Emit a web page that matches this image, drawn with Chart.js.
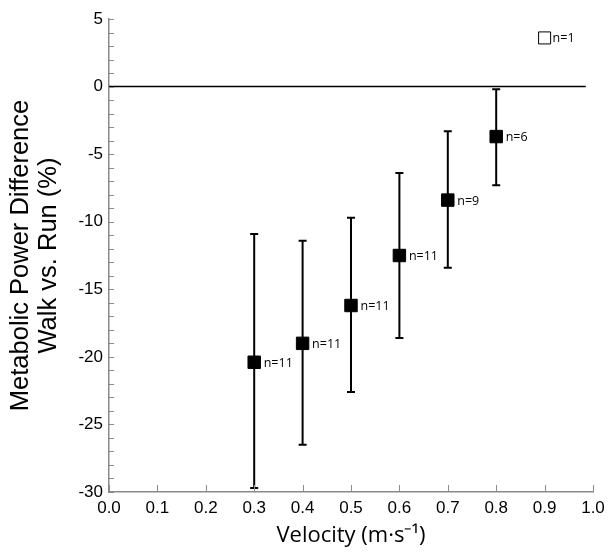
<!DOCTYPE html>
<html>
<head>
<meta charset="utf-8">
<script src="https://cdn.jsdelivr.net/npm/chart.js@4.4.1/dist/chart.umd.min.js"></script>
<style>
  html, body { margin: 0; padding: 0; background: #fff; }
</style>
</head>
<body>
<canvas id="powerChart" width="611" height="554"></canvas>
<script>
// walk vs run metabolic power difference, mean +/- sd per speed
const velocity = [0.3, 0.4, 0.5, 0.6, 0.7, 0.8];
const powerDiff = [-20.4, -19.0, -16.2, -12.5, -8.4, -3.7];
const errTop = [-10.9, -11.4, -9.7, -6.4, -3.3, -0.2];
const errBottom = [-29.7, -26.5, -22.6, -18.6, -13.4, -7.3];
const subjects = [11, 11, 11, 11, 9, 6];

// the lone subject at 0.9
const singleVelocity = [0.9];
const singleDiff = [3.6];
const singleSubjects = [1];

const zeroLineX = [0, 0.985];
const zeroLineY = [0, 0];

const axisGrey = '#8a8a8a';

const errorBars = {
    id: 'errorBars',
    beforeDatasetsDraw(chart) {
        const { ctx, scales: { x, y } } = chart;
        ctx.save();
        ctx.strokeStyle = '#000';
        ctx.lineWidth = 2;
        velocity.forEach((v, i) => {
            const px = x.getPixelForValue(v);
            const top = y.getPixelForValue(errTop[i]);
            const bot = y.getPixelForValue(errBottom[i]);
            ctx.beginPath();
            ctx.moveTo(px, top);
            ctx.lineTo(px, bot);
            ctx.moveTo(px - 4, top);
            ctx.lineTo(px + 4, top);
            ctx.moveTo(px - 4, bot);
            ctx.lineTo(px + 4, bot);
            ctx.stroke();
        });
        ctx.restore();
    },
    afterDatasetsDraw(chart) {
        const { ctx, scales: { x, y } } = chart;
        ctx.save();
        ctx.fillStyle = '#000';
        ctx.font = '12.5px "Open Sans"';
        ctx.textAlign = 'left';
        ctx.textBaseline = 'middle';
        velocity.forEach((v, i) => {
            ctx.fillText('n=' + subjects[i], x.getPixelForValue(v) + 9.5, y.getPixelForValue(powerDiff[i]) + 1);
        });
        singleVelocity.forEach((v, i) => {
            ctx.fillText('n=' + singleSubjects[i], x.getPixelForValue(v) + 8, y.getPixelForValue(singleDiff[i]) + 1);
        });
        ctx.restore();
    }
};

// small inward ticks like the original plot
const innerTicks = {
    id: 'innerTicks',
    afterDraw(chart) {
        const { ctx, scales: { x, y }, chartArea } = chart;
        ctx.save();
        ctx.strokeStyle = axisGrey;
        ctx.lineWidth = 1;
        ctx.beginPath();
        for (let i = 0; i <= 35; i++) {
            const py = Math.round(y.getPixelForValue(-30 + i)) + 0.5;
            ctx.moveTo(chartArea.left, py);
            ctx.lineTo(chartArea.left + 5, py);
        }
        for (let i = 0; i <= 10; i++) {
            const px = Math.round(x.getPixelForValue(i / 10)) + 0.5;
            ctx.moveTo(px, chartArea.bottom);
            ctx.lineTo(px, chartArea.bottom - 7);
        }
        ctx.stroke();
        ctx.restore();
    }
};

const ctx = document.getElementById('powerChart').getContext('2d');
const powerChart = new Chart(ctx, {
    type: 'scatter',
    data: {
        datasets: [
            {
                type: 'line',
                data: zeroLineX.map((v, i) => ({ x: v, y: zeroLineY[i] })),
                borderColor: '#000',
                borderWidth: 1.5,
                pointRadius: 0,
                fill: false
            },
            {
                data: velocity.map((v, i) => ({ x: v, y: powerDiff[i] })),
                pointStyle: 'rect',
                pointRadius: 8.8,
                backgroundColor: '#000',
                borderColor: '#000',
                borderWidth: 1
            },
            {
                data: singleVelocity.map((v, i) => ({ x: v, y: singleDiff[i] })),
                pointStyle: 'rect',
                pointRadius: 8.5,
                backgroundColor: '#fff',
                borderColor: '#000',
                borderWidth: 1
            }
        ]
    },
    options: {
        responsive: false,
        animation: false,
        events: [],
        layout: {
            padding: { left: 0, top: 19, right: 18, bottom: 0 }
        },
        scales: {
            x: {
                type: 'linear',
                min: 0,
                max: 1,
                afterFit: (scale) => { scale.height = 62; },
                grid: { display: false, drawTicks: false },
                border: { display: true, color: axisGrey, width: 1.5 },
                ticks: {
                    stepSize: 0.1,
                    padding: 6,
                    color: '#000',
                    font: { family: '"Liberation Sans", Arial', size: 17 },
                    callback: (v) => Number(v).toFixed(1)
                },
                title: {
                    display: true,
                    text: 'Velocity (m·s⁻¹)',
                    color: '#000',
                    font: { family: '"Open Sans"', size: 22 },
                    padding: { top: 0, bottom: 5 }
                }
            },
            y: {
                type: 'linear',
                min: -30,
                max: 5,
                afterFit: (scale) => { scale.width = 109; },
                grid: { display: false, drawTicks: false },
                border: { display: true, color: axisGrey, width: 1.5 },
                ticks: {
                    stepSize: 5,
                    padding: 6,
                    color: '#000',
                    font: { family: '"Liberation Sans", Arial', size: 17 }
                },
                title: {
                    display: true,
                    text: ['Metabolic Power Difference', 'Walk vs. Run (%)'],
                    color: '#000',
                    font: { family: '"Liberation Sans", Arial', size: 25.5, lineHeight: 1.1 },
                    padding: { top: 6.5, bottom: 0 }
                }
            }
        },
        plugins: {
            legend: { display: false },
            tooltip: { enabled: false }
        }
    },
    plugins: [errorBars, innerTicks]
});
</script>
</body>
</html>
